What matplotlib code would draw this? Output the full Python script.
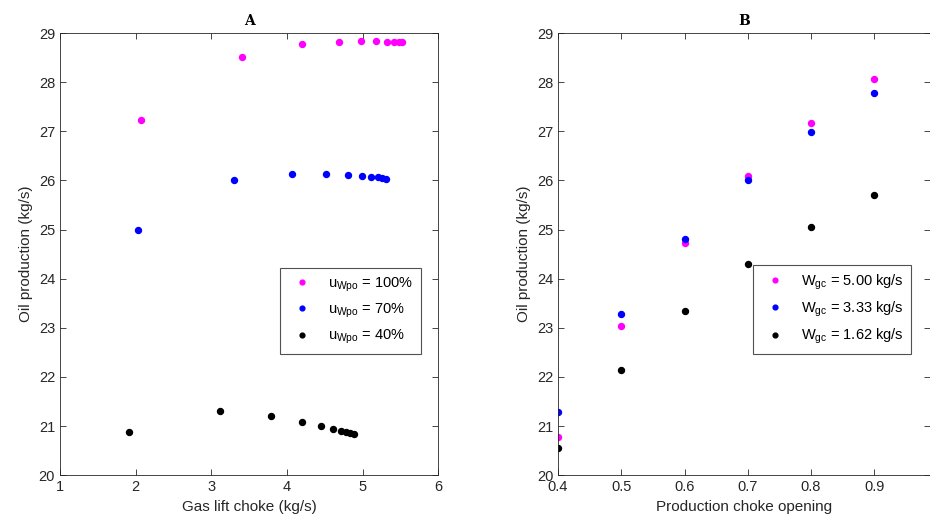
import matplotlib
matplotlib.use("Agg")
import matplotlib.pyplot as plt

plt.rcParams["font.family"] = ["Liberation Sans", "DejaVu Sans"]
plt.rcParams["mathtext.default"] = "regular"

# Panel A: oil production vs gas lift choke for three production choke openings
gl_100 = [2.07, 3.40, 4.20, 4.68, 4.98, 5.18, 5.32, 5.41, 5.48, 5.52]
oil_100 = [27.23, 28.52, 28.77, 28.82, 28.83, 28.83, 28.82, 28.82, 28.81, 28.81]
gl_70 = [2.03, 3.30, 4.07, 4.52, 4.81, 4.99, 5.11, 5.20, 5.26, 5.31]
oil_70 = [25.00, 26.00, 26.13, 26.13, 26.11, 26.09, 26.07, 26.06, 26.04, 26.03]
gl_40 = [1.91, 3.11, 3.79, 4.20, 4.45, 4.60, 4.71, 4.78, 4.83, 4.88]
oil_40 = [20.88, 21.30, 21.21, 21.09, 21.01, 20.94, 20.90, 20.87, 20.85, 20.83]
labels_a = ["u$_{Wpo}$ = 100%", "u$_{Wpo}$ = 70%", "u$_{Wpo}$ = 40%"]

# Panel B: oil production vs production choke opening for three gas lift rates
choke = [0.4, 0.5, 0.6, 0.7, 0.8, 0.9]
oil_w500 = [20.78, 23.03, 24.73, 26.08, 27.17, 28.07]
oil_w333 = [21.29, 23.28, 24.80, 26.01, 26.98, 27.79]
oil_w162 = [20.56, 22.14, 23.34, 24.29, 25.06, 25.70]
labels_b = ["W$_{gc}$ = 5.00 kg/s", "W$_{gc}$ = 3.33 kg/s", "W$_{gc}$ = 1.62 kg/s"]

colors = ["#ff00ff", "#0000ff", "#000000"]
axis_col = "#262626"

fig = plt.figure(figsize=(9.3, 5.25), dpi=100)
ax1 = fig.add_axes([0.0645, 0.095, 0.407, 0.842])
ax2 = fig.add_axes([0.600, 0.095, 0.400, 0.842])

for x, y, c, lab in zip([gl_100, gl_70, gl_40], [oil_100, oil_70, oil_40], colors, labels_a):
    ax1.plot(x, y, "o", ls="none", ms=4.3, color=c, label=lab)
for y, c, lab in zip([oil_w500, oil_w333, oil_w162], colors, labels_b):
    ax2.plot(choke, y, "o", ls="none", ms=4.3, color=c, label=lab)

ax1.set_xlim(1, 6)
ax1.set_xticks(range(1, 7))
ax2.set_xlim(0.4, 0.988)
ax2.set_xticks(choke)
ax2.set_xticklabels(["0.4", "0.5", "0.6", "0.7", "0.8", "0.9"])

legend_anchor = {ax1: (0.301, 0.4895), ax2: (0.8097, 0.4952)}

for ax, title, xlab in [(ax1, "A", "Gas lift choke (kg/s)"),
                        (ax2, "B", "Production choke opening")]:
    ax.set_ylim(20, 29)
    ax.set_yticks(range(20, 30))
    ax.set_xlabel(xlab, fontsize=11, color=axis_col)
    ax.set_ylabel("Oil production (kg/s)", fontsize=11, color=axis_col)
    ax.set_title(title, fontsize=10, fontweight="bold", family="DejaVu Serif", pad=6)
    ax.tick_params(direction="in", top=True, right=True, labelsize=10.5,
                   colors=axis_col, length=4, width=0.6)
    for sp in ax.spines.values():
        sp.set_color(axis_col)
        sp.set_linewidth(0.6)
    leg = ax.legend(loc="upper left", bbox_to_anchor=legend_anchor[ax],
                    bbox_transform=fig.transFigure,
                    fontsize=10.5, frameon=True, fancybox=False, edgecolor=axis_col,
                    handletextpad=0.8, borderpad=0.5, labelspacing=0.55,
                    handlelength=2.0, markerscale=0.8, borderaxespad=0)
    leg.get_frame().set_linewidth(0.8)

fig.savefig("out.png", dpi=100)
